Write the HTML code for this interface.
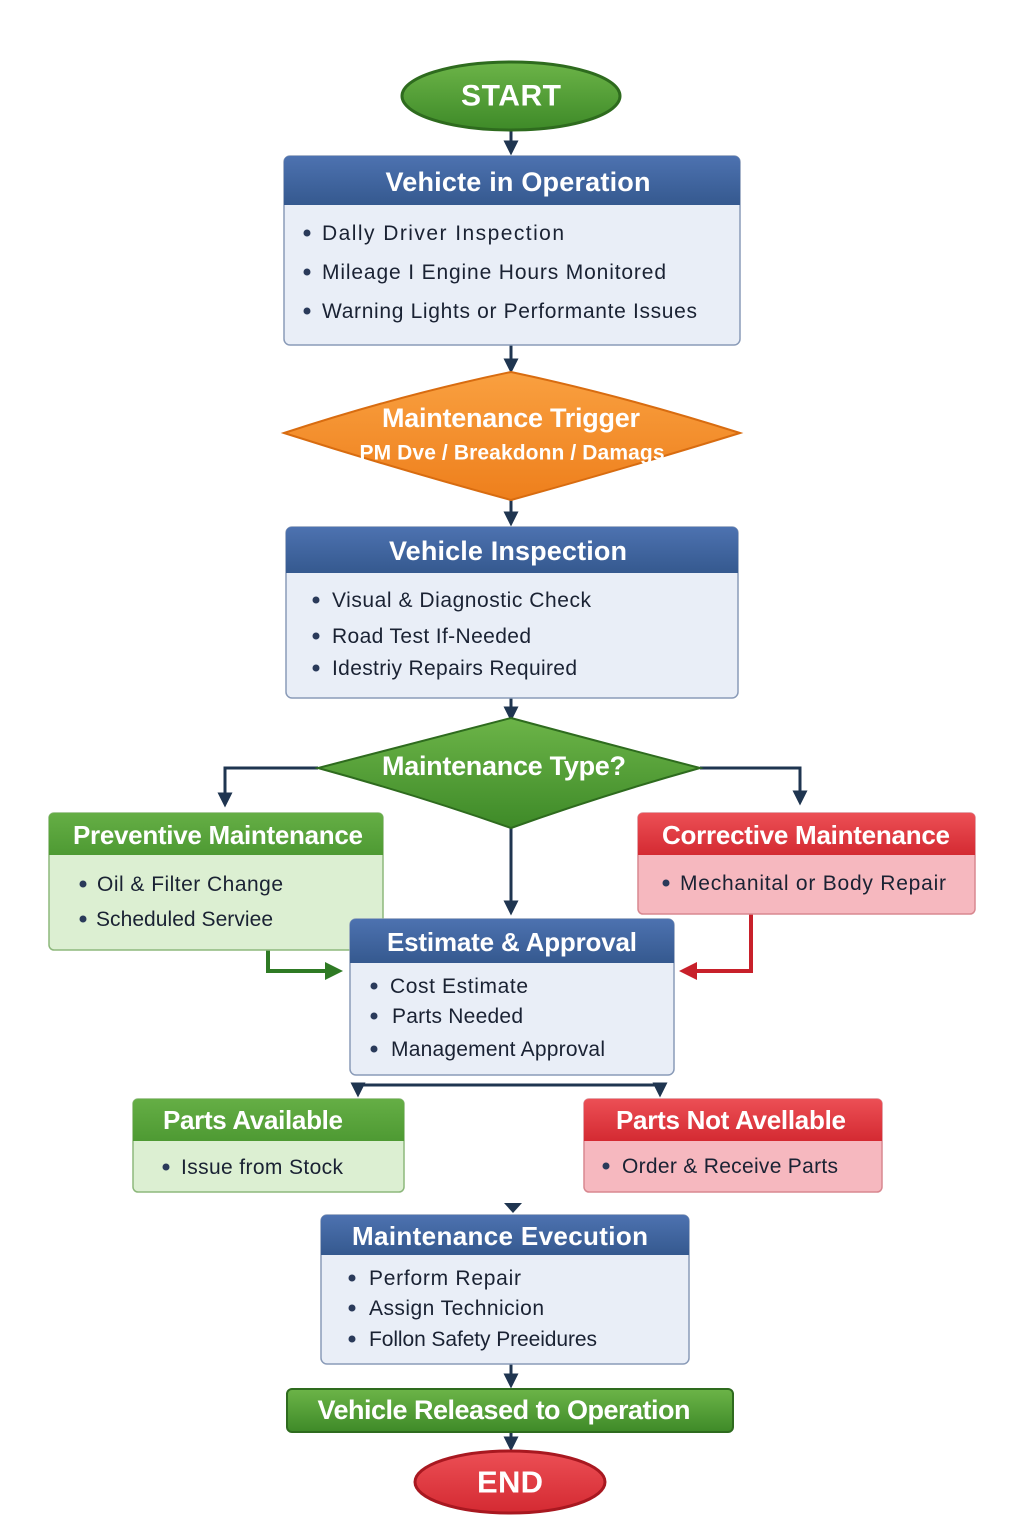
<!DOCTYPE html>
<html><head><meta charset="utf-8"><style>
html,body{margin:0;padding:0;background:#fff;}
svg{display:block;}
.t{font-family:"Liberation Sans",sans-serif;font-weight:bold;fill:#fff;}
.b{font-family:"Liberation Sans",sans-serif;fill:#1a2233;font-size:21px;}
</style></head><body>
<svg width="1024" height="1536" viewBox="0 0 1024 1536" xmlns="http://www.w3.org/2000/svg">
<defs>
<linearGradient id="gg" x1="0" y1="0" x2="0" y2="1"><stop offset="0" stop-color="#6cb448"/><stop offset="1" stop-color="#3e8a28"/></linearGradient>
<linearGradient id="bg" x1="0" y1="0" x2="0" y2="1"><stop offset="0" stop-color="#4d72b0"/><stop offset="1" stop-color="#35598f"/></linearGradient>
<linearGradient id="og" x1="0" y1="0" x2="0" y2="1"><stop offset="0" stop-color="#f9a040"/><stop offset="1" stop-color="#ee7f1c"/></linearGradient>
<linearGradient id="rg" x1="0" y1="0" x2="0" y2="1"><stop offset="0" stop-color="#ec4f55"/><stop offset="1" stop-color="#d42a32"/></linearGradient>
<linearGradient id="gh" x1="0" y1="0" x2="0" y2="1"><stop offset="0" stop-color="#65ae45"/><stop offset="1" stop-color="#4e9a33"/></linearGradient>
<marker id="ah" viewBox="0 0 10 10" refX="5" refY="5" markerWidth="5" markerHeight="5" orient="auto"><path d="M0,0 L10,5 L0,10z" fill="#1f3550"/></marker>
<marker id="ahg" viewBox="0 0 10 10" refX="5" refY="5" markerWidth="4.5" markerHeight="4.5" orient="auto"><path d="M0,0 L10,5 L0,10z" fill="#2e7a24"/></marker>
<marker id="ahr" viewBox="0 0 10 10" refX="5" refY="5" markerWidth="4.5" markerHeight="4.5" orient="auto"><path d="M0,0 L10,5 L0,10z" fill="#c8202a"/></marker>
</defs>
<g stroke="#1f3550" stroke-width="3" fill="none">
<line x1="511" y1="130" x2="511" y2="148" marker-end="url(#ah)"/>
<line x1="511" y1="345" x2="511" y2="366" marker-end="url(#ah)"/>
<line x1="511" y1="500" x2="511" y2="519" marker-end="url(#ah)"/>
<line x1="511" y1="698" x2="511" y2="714" marker-end="url(#ah)"/>
<polyline points="318,768 225,768 225,800" marker-end="url(#ah)"/>
<polyline points="700,768 800,768 800,798" marker-end="url(#ah)"/>
<line x1="511" y1="828" x2="511" y2="908" marker-end="url(#ah)"/>
<polyline points="358,1092 358,1085 660,1085 660,1092"/>
<line x1="358" y1="1085" x2="358" y2="1090" marker-end="url(#ah)"/>
<line x1="660" y1="1085" x2="660" y2="1090" marker-end="url(#ah)"/>
<line x1="511" y1="1364" x2="511" y2="1381" marker-end="url(#ah)"/>
<line x1="511" y1="1432" x2="511" y2="1444" marker-end="url(#ah)"/>
</g>
<path d="M504,1203 L522,1203 L513,1213z" fill="#1f3550"/>
<polyline points="268,950 268,971 334,971" stroke="#2e7a24" stroke-width="4" fill="none" marker-end="url(#ahg)"/>
<polyline points="751,914 751,971 688,971" stroke="#c8202a" stroke-width="4" fill="none" marker-end="url(#ahr)"/>

<ellipse cx="511" cy="96" rx="109" ry="34" fill="url(#gg)" stroke="#2e6b1e" stroke-width="3"/>
<text class="t" x="511" y="96" dominant-baseline="central" text-anchor="middle" font-size="30" textLength="100">START</text>

<rect x="284" y="156" width="456" height="189" rx="6" fill="#e9eef7" stroke="#8a9bb8" stroke-width="1.5"/>
<path d="M290,156 H734 Q740,156 740,162 V205 H284 V162 Q284,156 290,156z" fill="url(#bg)"/>
<text class="t" x="518" y="182" dominant-baseline="central" text-anchor="middle" font-size="27" textLength="265">Vehicte in Operation</text>
<g class="b"><circle cx="307" cy="233" r="3.5" fill="#2a3a5a"/><text x="322" y="240" textLength="242">Dally Driver Inspection</text>
<circle cx="307" cy="272" r="3.5" fill="#2a3a5a"/><text x="322" y="279" textLength="344">Mileage I Engine Hours Monitored</text>
<circle cx="307" cy="311" r="3.5" fill="#2a3a5a"/><text x="322" y="318" textLength="375">Warning Lights or Performante Issues</text></g>

<path d="M511,372 Q620,395 740,433 Q620,470 511,500 Q400,470 284,433 Q400,395 511,372z" fill="url(#og)" stroke="#d86c10" stroke-width="2"/>
<text class="t" x="511" y="418" dominant-baseline="central" text-anchor="middle" font-size="27" textLength="258">Maintenance Trigger</text>
<text class="t" x="512" y="453" dominant-baseline="central" text-anchor="middle" font-size="21" textLength="305">PM Dve / Breakdonn / Damags</text>

<rect x="286" y="527" width="452" height="171" rx="6" fill="#e9eef7" stroke="#8a9bb8" stroke-width="1.5"/>
<path d="M292,527 H732 Q738,527 738,533 V573 H286 V533 Q286,527 292,527z" fill="url(#bg)"/>
<text class="t" x="508" y="551" dominant-baseline="central" text-anchor="middle" font-size="27" textLength="238">Vehicle Inspection</text>
<g class="b"><circle cx="316" cy="600" r="3.5" fill="#2a3a5a"/><text x="332" y="607" textLength="259">Visual &amp; Diagnostic Check</text>
<circle cx="316" cy="636" r="3.5" fill="#2a3a5a"/><text x="332" y="643" textLength="199">Road Test If-Needed</text>
<circle cx="316" cy="668" r="3.5" fill="#2a3a5a"/><text x="332" y="675" textLength="245">Idestriy Repairs Required</text></g>

<path d="M511,718 Q600,742 700,768 Q600,796 511,828 Q420,796 318,768 Q420,742 511,718z" fill="url(#gg)" stroke="#2e6b1e" stroke-width="2"/>
<text class="t" x="504" y="766" dominant-baseline="central" text-anchor="middle" font-size="27" textLength="244">Maintenance Type?</text>

<rect x="49" y="813" width="334" height="137" rx="5" fill="#dcefd2" stroke="#8db87c" stroke-width="1.5"/>
<path d="M54,813 H378 Q383,813 383,818 V855 H49 V818 Q49,813 54,813z" fill="url(#gh)"/>
<text class="t" x="218" y="835" dominant-baseline="central" text-anchor="middle" font-size="26" textLength="290">Preventive Maintenance</text>
<g class="b"><circle cx="83" cy="884" r="3.5" fill="#2a3a5a"/><text x="97" y="891" textLength="186">Oil &amp; Filter Change</text>
<circle cx="83" cy="919" r="3.5" fill="#2a3a5a"/><text x="96" y="926" textLength="177">Scheduled Serviee</text></g>

<rect x="638" y="813" width="337" height="101" rx="5" fill="#f6b8bf" stroke="#d88890" stroke-width="1.5"/>
<path d="M643,813 H970 Q975,813 975,818 V855 H638 V818 Q638,813 643,813z" fill="url(#rg)"/>
<text class="t" x="806" y="835" dominant-baseline="central" text-anchor="middle" font-size="26" textLength="288">Corrective Maintenance</text>
<g class="b"><circle cx="666" cy="883" r="3.5" fill="#2a3a5a"/><text x="680" y="890" textLength="266">Mechanital or Body Repair</text></g>

<rect x="350" y="919" width="324" height="156" rx="6" fill="#e9eef7" stroke="#8a9bb8" stroke-width="1.5"/>
<path d="M356,919 H668 Q674,919 674,925 V963 H350 V925 Q350,919 356,919z" fill="url(#bg)"/>
<text class="t" x="512" y="942" dominant-baseline="central" text-anchor="middle" font-size="26" textLength="250">Estimate &amp; Approval</text>
<g class="b"><circle cx="374" cy="986" r="3.5" fill="#2a3a5a"/><text x="390" y="993" textLength="138">Cost Estimate</text>
<circle cx="374" cy="1016" r="3.5" fill="#2a3a5a"/><text x="392" y="1023" textLength="131">Parts Needed</text>
<circle cx="374" cy="1049" r="3.5" fill="#2a3a5a"/><text x="391" y="1056" textLength="214">Management Approval</text></g>

<rect x="133" y="1099" width="271" height="93" rx="5" fill="#dcefd2" stroke="#8db87c" stroke-width="1.5"/>
<path d="M138,1099 H399 Q404,1099 404,1104 V1141 H133 V1104 Q133,1099 138,1099z" fill="url(#gh)"/>
<text class="t" x="253" y="1120" dominant-baseline="central" text-anchor="middle" font-size="26" textLength="180">Parts Available</text>
<g class="b"><circle cx="166" cy="1167" r="3.5" fill="#2a3a5a"/><text x="181" y="1174" textLength="162">Issue from Stock</text></g>

<rect x="584" y="1099" width="298" height="93" rx="5" fill="#f6b8bf" stroke="#d88890" stroke-width="1.5"/>
<path d="M589,1099 H877 Q882,1099 882,1104 V1141 H584 V1104 Q584,1099 589,1099z" fill="url(#rg)"/>
<text class="t" x="731" y="1120" dominant-baseline="central" text-anchor="middle" font-size="26" textLength="230">Parts Not Avellable</text>
<g class="b"><circle cx="606" cy="1166" r="3.5" fill="#2a3a5a"/><text x="622" y="1173" textLength="216">Order &amp; Receive Parts</text></g>

<rect x="321" y="1215" width="368" height="149" rx="6" fill="#e9eef7" stroke="#8a9bb8" stroke-width="1.5"/>
<path d="M327,1215 H683 Q689,1215 689,1221 V1255 H321 V1221 Q321,1215 327,1215z" fill="url(#bg)"/>
<text class="t" x="500" y="1236" dominant-baseline="central" text-anchor="middle" font-size="26" textLength="296">Maintenance Evecution</text>
<g class="b"><circle cx="352" cy="1278" r="3.5" fill="#2a3a5a"/><text x="369" y="1285" textLength="152">Perform Repair</text>
<circle cx="352" cy="1308" r="3.5" fill="#2a3a5a"/><text x="369" y="1315" textLength="175">Assign Technicion</text>
<circle cx="352" cy="1339" r="3.5" fill="#2a3a5a"/><text x="369" y="1346" textLength="228">Follon Safety Preeidures</text></g>

<rect x="287" y="1389" width="446" height="43" rx="5" fill="url(#gg)" stroke="#2e6b1e" stroke-width="2"/>
<text class="t" x="504" y="1410" dominant-baseline="central" text-anchor="middle" font-size="27" textLength="373">Vehicle Released to Operation</text>

<ellipse cx="510" cy="1482" rx="95" ry="31" fill="url(#rg)" stroke="#a81820" stroke-width="3"/>
<text class="t" x="510" y="1482" dominant-baseline="central" text-anchor="middle" font-size="31" textLength="66">END</text>
</svg>
</body></html>
